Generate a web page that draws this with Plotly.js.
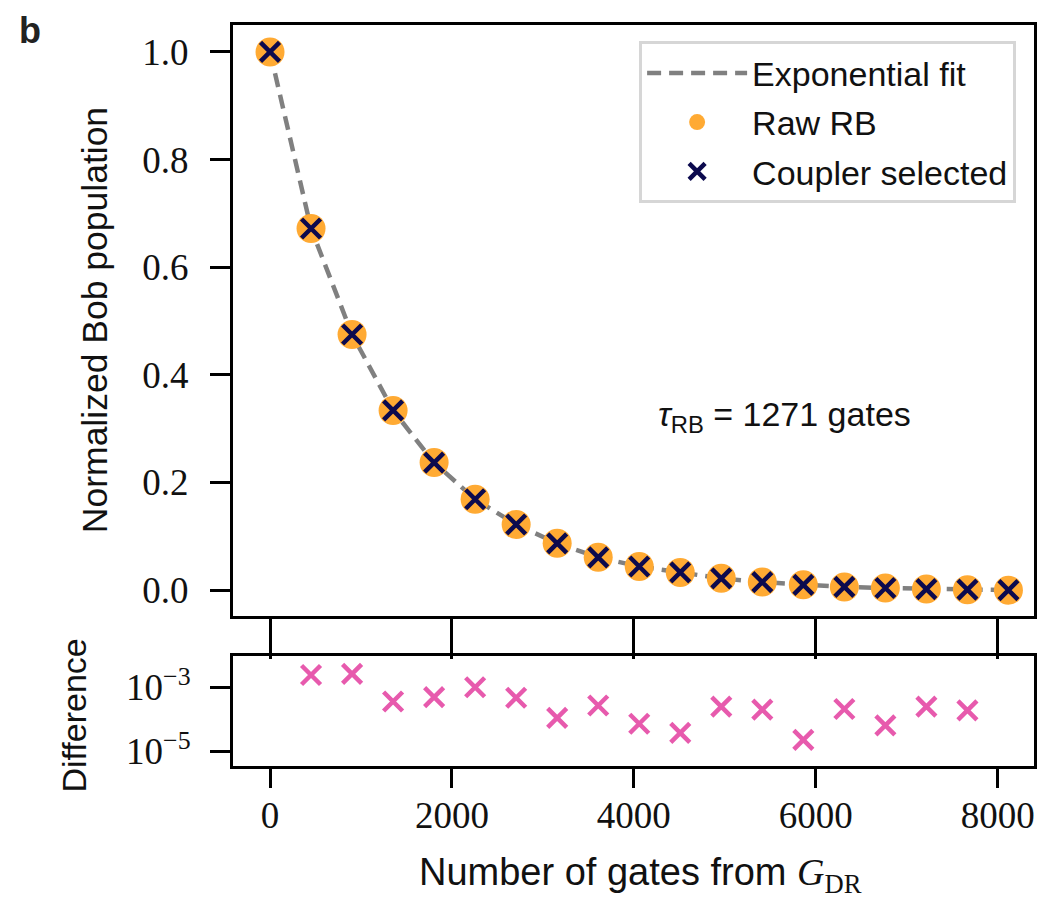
<!DOCTYPE html>
<html>
<head>
<meta charset="utf-8">
<script src="https://cdn.plot.ly/plotly-3.0.1.min.js"></script>
<style>html,body{margin:0;padding:0;background:#fff;}#chart{width:1041px;height:899px;}</style>
</head>
<body>
<div id="chart"></div>
<script>
// Data
const gates = [0, 451, 902, 1353, 1804, 2255, 2706, 3157, 3608, 4059, 4510, 4961, 5412, 5863, 6314, 6765, 7216, 7667, 8118];
const fitValues = [1.0, 0.672, 0.475, 0.334, 0.237, 0.169, 0.122, 0.087, 0.061, 0.044, 0.033, 0.022, 0.015, 0.010, 0.006, 0.004, 0.002, 0.001, 0.000];
const rawRB = [1.0, 0.672, 0.475, 0.334, 0.237, 0.169, 0.122, 0.087, 0.061, 0.044, 0.033, 0.022, 0.015, 0.010, 0.006, 0.004, 0.002, 0.001, 0.000];
const couplerSelected = [1.0, 0.672, 0.475, 0.334, 0.237, 0.169, 0.122, 0.087, 0.061, 0.044, 0.033, 0.022, 0.015, 0.010, 0.006, 0.004, 0.002, 0.001, 0.000];
const diffGates = [451, 902, 1353, 1804, 2255, 2706, 3157, 3608, 4059, 4510, 4961, 5412, 5863, 6314, 6765, 7216, 7667];
const difference = [2.4e-3, 2.6e-3, 3.6e-4, 4.9e-4, 1.0e-3, 4.7e-4, 1.12e-4, 2.7e-4, 7.3e-5, 3.8e-5, 2.5e-4, 2.0e-4, 2.3e-5, 2.1e-4, 6.5e-5, 2.5e-4, 1.9e-4];
const xTickVals = [0, 2000, 4000, 6000, 8000];
const yTickVals = [0.0, 0.2, 0.4, 0.6, 0.8, 1.0];
const yTickText = ['0.0', '0.2', '0.4', '0.6', '0.8', '1.0'];
const diffTickVals = [1e-5, 1e-3];
const diffTickText = ['10<sup>−5</sup>', '10<sup>−3</sup>'];

const serif = "'Liberation Serif', 'DejaVu Serif', serif";
const sans = "'Liberation Sans', 'DejaVu Sans', sans-serif";

const traces = [
  {
    x: gates, y: fitValues, type: 'scatter', mode: 'lines', name: 'Exponential fit',
    line: {color: '#808080', width: 4.5, dash: '14px,8px'},
    xaxis: 'x', yaxis: 'y', legendgroup: 'a'
  },
  {
    x: gates, y: rawRB, type: 'scatter', mode: 'markers', name: 'Raw RB',
    marker: {symbol: 'circle', size: 29, color: '#ffaa33', line: {width: 0}},
    xaxis: 'x', yaxis: 'y', legendgroup: 'b'
  },
  {
    x: gates, y: couplerSelected, type: 'scatter', mode: 'markers', name: 'Coupler selected',
    marker: {symbol: 'x-thin', size: 19, color: '#0c0a4e', line: {width: 4.5, color: '#0c0a4e'}},
    xaxis: 'x', yaxis: 'y', legendgroup: 'c'
  },
  {
    x: diffGates, y: difference, type: 'scatter', mode: 'markers', name: 'Difference',
    marker: {symbol: 'x-thin', size: 19, color: '#e75aad', line: {width: 4.5, color: '#e75aad'}},
    xaxis: 'x2', yaxis: 'y2', showlegend: false
  }
];

const axisCommon = {
  showline: true, linecolor: '#000', linewidth: 3, mirror: true,
  showgrid: false, zeroline: false, ticks: 'outside', tickwidth: 3, tickcolor: '#000',
  tickfont: {family: serif, size: 37, color: '#111'}
};

const layout = {
  width: 1041, height: 899,
  margin: {l: 233, r: 7, t: 25, b: 133},
  paper_bgcolor: '#fff', plot_bgcolor: '#fff',
  showlegend: true,
  xaxis: Object.assign({}, axisCommon, {
    domain: [0, 1], anchor: 'y', range: [-407, 8399],
    tickvals: xTickVals, showticklabels: false, ticklen: 40, mirror: true
  }),
  yaxis: Object.assign({}, axisCommon, {
    domain: [0.2024, 1], anchor: 'x', range: [-0.048, 1.05],
    tickvals: yTickVals, ticktext: yTickText, ticklen: 20, ticklabelstandoff: 14
  }),
  xaxis2: Object.assign({}, axisCommon, {
    domain: [0, 1], anchor: 'y2', range: [-407, 8399],
    tickvals: xTickVals, ticktext: xTickVals.map(String), ticklen: 19, ticklabelstandoff: -4
  }),
  yaxis2: Object.assign({}, axisCommon, {
    domain: [0, 0.1484], anchor: 'x2', type: 'log', range: [-5.45, -2.03],
    tickvals: diffTickVals, ticktext: diffTickText, ticklen: 20, ticklabelstandoff: 12
  }),
  legend: {
    x: 0.507, y: 0.978, xanchor: 'left', yanchor: 'top',
    bgcolor: '#ffffff', bordercolor: '#d6d6d6', borderwidth: 3,
    font: {family: sans, size: 34, color: '#111'},
    itemwidth: 100, traceorder: 'grouped', tracegroupgap: 2
  },
  annotations: [
    {
      text: '<b>b</b>', xref: 'paper', yref: 'paper', x: -0.2534, y: 0.993,
      xanchor: 'center', yanchor: 'middle', showarrow: false,
      font: {family: sans, size: 36, color: '#222'}
    },
    {
      text: '<i>τ</i><sub>RB</sub> = 1271 gates', xref: 'paper', yref: 'paper', x: 0.688, y: 0.471,
      xanchor: 'center', yanchor: 'middle', showarrow: false,
      font: {family: sans, size: 34, color: '#111'}
    },
    {
      text: 'Normalized Bob population', xref: 'paper', yref: 'paper', x: -0.172, y: 0.602,
      xanchor: 'center', yanchor: 'middle', textangle: -90, showarrow: false,
      font: {family: sans, size: 35.5, color: '#111'}
    },
    {
      text: 'Difference', xref: 'paper', yref: 'paper', x: -0.1985, y: 0.068,
      xanchor: 'center', yanchor: 'middle', textangle: -90, showarrow: false,
      font: {family: sans, size: 34, color: '#111'}
    },
    {
      text: "Number of gates from <span style=\"font-family:'Liberation Serif'\"><i>G</i><sub>DR</sub></span>",
      xref: 'paper', yref: 'paper', x: 0.509, y: -0.147,
      xanchor: 'center', yanchor: 'middle', showarrow: false,
      font: {family: sans, size: 38, color: '#111'}
    }
  ]
};

Plotly.newPlot('chart', traces, layout, {staticPlot: true, displayModeBar: false});
</script>
</body>
</html>
